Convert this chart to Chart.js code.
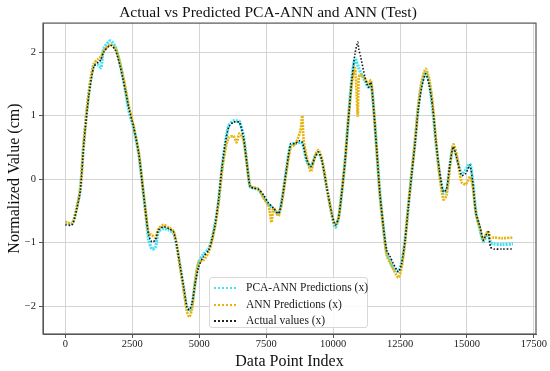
<!DOCTYPE html>
<html>
<head>
<meta charset="utf-8">
<script src="https://cdn.jsdelivr.net/npm/chart.js@4.4.0/dist/chart.umd.min.js"></script>
<style>
    html, body { margin: 0; padding: 0; background: #fff; }
    #wrap { position: relative; width: 550px; height: 371px; }
    #legend {
        position: absolute; left: 209px; top: 277px; width: 159px; height: 51px;
        border: 1px solid #d8d8d8; border-radius: 3px; background: rgba(255,255,255,0.85);
        font-family: "Liberation Serif", "Times New Roman", serif; font-size: 11.5px; color: #1a1a1a;
        box-sizing: border-box; padding-top: 1px;
    }
    .row { height: 16.5px; line-height: 16.5px; white-space: nowrap; }
    .swatch { display: inline-block; width: 22px; margin: 0 10px 0 4px; vertical-align: middle; border-top: 2px dotted; }
</style>
</head>
<body>
<div id="wrap">
    <canvas id="chart" width="550" height="371"></canvas>
    <div id="legend">
        <div class="row"><span class="swatch" style="border-color:#3fe3f5"></span>PCA-ANN Predictions (x)</div>
        <div class="row"><span class="swatch" style="border-color:#e8b30c"></span>ANN Predictions (x)</div>
        <div class="row"><span class="swatch" style="border-color:#222"></span>Actual values (x)</div>
    </div>
</div>
<script>
const dataIndex = [0, 250, 440, 560, 690, 870, 1060, 1240, 1330, 1430, 1680, 1870, 2050, 2240, 2360, 2550, 2740, 2860, 2990, 3110,
    3230, 3360, 3480, 3670, 3860, 4040, 4170, 4290, 4420, 4540, 4630, 4730, 4850, 4980, 5160, 5350, 5470, 5600, 5720, 5850,
    5970, 6100, 6280, 6400, 6500, 6650, 6780, 6900, 7030, 7210, 7400, 7590, 7700, 7780, 7960, 8090, 8270, 8420, 8580, 8770,
    8850, 8900, 9020, 9170, 9330, 9450, 9580, 9760, 9950, 10080, 10200, 10320, 10450, 10570, 10700, 10820, 10920, 10960, 11030, 11190,
    11320, 11410, 11500, 11630, 11750, 11880, 12000, 12130, 12250, 12440, 12560, 12690, 12810, 12940, 13060, 13180, 13310, 13460, 13590, 13720,
    13840, 13970, 14120, 14240, 14370, 14490, 14610, 14800, 14960, 15110, 15210, 15340, 15490, 15610, 15710, 15800, 15880, 16000, 16300, 16720];

const actualValues = [-0.72, -0.72, -0.44, -0.17, 0.56, 1.30, 1.77, 1.85, 1.88, 2.00, 2.11, 2.03, 1.77, 1.40, 1.14, 0.82, 0.41, -0.02, -0.49, -0.88,
    -0.99, -0.96, -0.80, -0.75, -0.78, -0.83, -1.07, -1.38, -1.70, -2.01, -2.06, -1.96, -1.64, -1.38, -1.22, -1.12, -0.96, -0.70, -0.33, 0.19,
    0.56, 0.82, 0.90, 0.90, 0.90, 0.67, 0.25, -0.12, -0.14, -0.16, -0.25, -0.38, -0.42, -0.46, -0.54, -0.33, 0.19, 0.56, 0.56, 0.61,
    0.58, 0.51, 0.30, 0.20, 0.35, 0.43, 0.30, -0.12, -0.54, -0.72, -0.62, -0.23, 0.30, 0.93, 1.56, 1.98, 2.16, 2.05, 1.93, 1.61,
    1.45, 1.53, 1.19, 0.46, -0.23, -0.75, -1.12, -1.22, -1.33, -1.46, -1.33, -0.96, -0.44, 0.09, 0.56, 1.09, 1.45, 1.66, 1.48, 1.14,
    0.61, 0.14, -0.20, -0.15, 0.25, 0.51, 0.35, 0.06, 0.09, 0.22, -0.02, -0.54, -0.75, -0.96, -0.88, -0.83, -1.07, -1.10, -1.10, -1.10];

const pcaAnnValues = [-0.68, -0.70, -0.42, -0.15, 0.58, 1.33, 1.80, 1.80, 1.76, 2.05, 2.18, 2.08, 1.80, 1.40, 1.10, 0.80, 0.40, -0.02, -0.50, -0.95,
    -1.10, -1.08, -0.82, -0.78, -0.80, -0.85, -1.08, -1.38, -1.72, -2.03, -2.08, -1.98, -1.62, -1.32, -1.18, -1.10, -0.95, -0.68, -0.35, 0.18,
    0.55, 0.84, 0.92, 0.92, 0.91, 0.68, 0.26, -0.12, -0.14, -0.17, -0.27, -0.40, -0.44, -0.48, -0.55, -0.32, 0.20, 0.55, 0.56, 0.58,
    0.56, 0.50, 0.28, 0.20, 0.36, 0.42, 0.30, -0.12, -0.55, -0.76, -0.62, -0.23, 0.30, 0.95, 1.60, 1.90, 1.80, 1.75, 1.68, 1.55,
    1.45, 1.52, 1.20, 0.46, -0.23, -0.76, -1.15, -1.28, -1.40, -1.45, -1.32, -0.95, -0.44, 0.10, 0.58, 1.12, 1.50, 1.68, 1.52, 1.10,
    0.58, 0.12, -0.22, -0.18, 0.25, 0.52, 0.36, 0.08, 0.15, 0.24, 0.00, -0.52, -0.80, -0.98, -0.90, -0.85, -1.00, -1.02, -1.03, -1.02];

const annValues = [-0.67, -0.70, -0.42, -0.14, 0.60, 1.35, 1.82, 1.90, 1.93, 2.02, 2.12, 2.06, 1.82, 1.45, 1.18, 0.84, 0.42, 0.00, -0.48, -0.85,
    -0.88, -0.92, -0.78, -0.72, -0.76, -0.82, -1.06, -1.40, -1.75, -2.08, -2.17, -2.05, -1.60, -1.30, -1.28, -1.15, -0.98, -0.72, -0.38, 0.12,
    0.45, 0.65, 0.68, 0.58, 0.72, 0.62, 0.24, -0.11, -0.13, -0.15, -0.30, -0.42, -0.68, -0.45, -0.58, -0.35, 0.15, 0.50, 0.55, 0.75,
    1.00, 0.62, 0.35, 0.12, 0.38, 0.46, 0.32, -0.12, -0.55, -0.72, -0.62, -0.22, 0.30, 0.95, 1.50, 1.75, 1.00, 1.60, 1.65, 1.58,
    1.50, 1.56, 1.20, 0.45, -0.25, -0.78, -1.20, -1.32, -1.42, -1.55, -1.40, -0.98, -0.42, 0.12, 0.60, 1.15, 1.55, 1.74, 1.58, 1.20,
    0.62, 0.08, -0.32, -0.25, 0.22, 0.55, 0.40, -0.05, -0.08, 0.04, -0.10, -0.55, -0.78, -0.96, -0.87, -0.82, -0.93, -0.92, -0.93, -0.92];

const xTicks = [0, 2500, 5000, 7500, 10000, 12500, 15000, 17500];
const yTicks = [-2, -1, 0, 1, 2];

const serif = '"Liberation Serif", "Times New Roman", serif';

function toPoints(values) {
    return dataIndex.map((x, i) => ({ x: x, y: values[i] }));
}

// box around the plot area like matplotlib spines
const frame = {
    id: 'frame',
    afterDraw(chart) {
        const a = chart.chartArea;
        const ctx = chart.ctx;
        ctx.save();
        ctx.strokeStyle = '#555';
        ctx.lineWidth = 1.2;
        ctx.strokeRect(a.left, a.top, a.right - a.left, a.bottom - a.top);
        ctx.restore();
    }
};

const ctx = document.getElementById('chart').getContext('2d');
new Chart(ctx, {
    type: 'line',
    data: {
        datasets: [
            {
                label: 'Actual values (x)',
                data: toPoints(actualValues),
                borderColor: '#111',
                borderWidth: 1.6,
                borderDash: [1.5, 1.8],
                pointRadius: 0,
                tension: 0.25,
                order: 1
            },
            {
                label: 'ANN Predictions (x)',
                data: toPoints(annValues),
                borderColor: '#e8b30c',
                borderWidth: 2.6,
                borderDash: [2, 1],
                pointRadius: 0,
                tension: 0.25,
                order: 2
            },
            {
                label: 'PCA-ANN Predictions (x)',
                data: toPoints(pcaAnnValues),
                borderColor: '#3fe3f5',
                borderWidth: 3.2,
                borderDash: [2, 1],
                pointRadius: 0,
                tension: 0.25,
                order: 3
            }
        ]
    },
    options: {
        responsive: false,
        animation: false,
        layout: { padding: { left: 0, right: 14, top: 0, bottom: 0 } },
        plugins: {
            legend: { display: false },
            tooltip: { enabled: false },
            title: {
                display: true,
                text: 'Actual vs Predicted PCA-ANN and ANN (Test)',
                color: '#111',
                font: { family: serif, size: 15.5, weight: 'normal' },
                padding: { top: 4, bottom: 0.5 }
            }
        },
        scales: {
            x: {
                type: 'linear',
                min: -836,
                max: 17580,
                afterBuildTicks: (scale) => { scale.ticks = xTicks.map(v => ({ value: v })); },
                afterFit: (scale) => { scale.height = 37; },
                ticks: {
                    color: '#222',
                    font: { family: serif, size: 10.5 },
                    padding: 0,
                    maxRotation: 0,
                    callback: (v) => String(v)
                },
                grid: { color: '#d4d4d4', lineWidth: 1, tickLength: 4, tickColor: '#555' },
                border: { color: '#555' },
                title: {
                    display: true,
                    text: 'Data Point Index',
                    color: '#111',
                    font: { family: serif, size: 16 },
                    padding: { top: 0, bottom: 0 }
                }
            },
            y: {
                min: -2.44,
                max: 2.46,
                afterBuildTicks: (scale) => { scale.ticks = yTicks.map(v => ({ value: v })); },
                afterFit: (scale) => { scale.width = 43; },
                ticks: {
                    color: '#222',
                    font: { family: serif, size: 10.5 },
                    padding: 3,
                    callback: (v) => String(v).replace('-', '\u2212')
                },
                grid: { color: '#d4d4d4', lineWidth: 1, tickLength: 4, tickColor: '#555' },
                border: { color: '#555' },
                title: {
                    display: true,
                    text: 'Normalized Value (cm)',
                    color: '#111',
                    font: { family: serif, size: 16 },
                    padding: { top: 5, bottom: 0 }
                }
            }
        }
    },
    plugins: [frame]
});
</script>
</body>
</html>
